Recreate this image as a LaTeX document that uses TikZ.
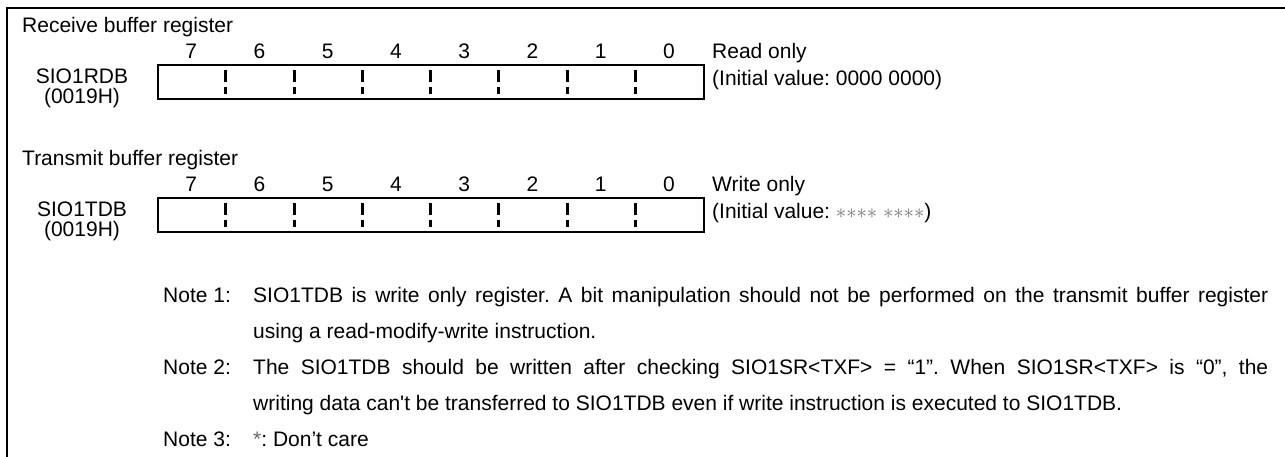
\documentclass[tikz,border=0pt]{standalone}
\usepackage{fontspec}
\setmainfont{Liberation Sans}[Ligatures=TeXOff]
\newcommand{\dcst}{\ensuremath{\mathord{\ast}}}
\begin{document}
\frenchspacing
\begin{tikzpicture}[x=1bp,y=-1bp,
  txt/.style={inner sep=0pt, anchor=base west, font=\fontsize{21bp}{25bp}\selectfont\frenchspacing},
  ctxt/.style={txt, anchor=base},
  regbox/.style={draw, line width=1.8bp, inner sep=0pt, anchor=north west, minimum width=546bp, minimum height=34.5bp},
  divider/.style={line width=2.2bp},
  frameline/.style={line width=2bp}]
\useasboundingbox (0,0) rectangle (1285,457);
% frame
\coordinate (ftr) at (1290,8);
\coordinate (fc) at (7,8);
\coordinate (fbl) at (7,460);
\draw[frameline] (ftr) -- (fc) -- (fbl);
% receive register
\node[txt] (rtitle) at (22,33) {Receive buffer register};
\foreach \i in {0,...,7} {
  \pgfmathtruncatemacro{\b}{7-\i}
  \node[ctxt] (rbit\b) at ({157+68.25*(\i+0.5)},59) {\b};
}
\node[regbox] (rdb) at (157,64) {};
\foreach \i in {1,...,7} {
  \pgfmathsetmacro{\xx}{round(157+68.25*\i)+0.5}
  \draw[divider] (\xx,70) -- (\xx,82);
  \draw[divider] (\xx,87) -- (\xx,94);
}
\node[ctxt] (rname) at (82,84) {SIO1RDB};
\node[ctxt] (raddr) at (82,104) {(0019H)};
\node[txt] (rmode) at (712,59) {Read only};
\node[txt] (rinit) at (712,86) {(Initial value: 0000 0000)};
% transmit register
\node[txt] (ttitle) at (22,166) {Transmit buffer register};
\foreach \i in {0,...,7} {
  \pgfmathtruncatemacro{\b}{7-\i}
  \node[ctxt] (tbit\b) at ({157+68.25*(\i+0.5)},192) {\b};
}
\node[regbox] (tdb) at (157,197) {};
\foreach \i in {1,...,7} {
  \pgfmathsetmacro{\xx}{round(157+68.25*\i)+0.5}
  \draw[divider] (\xx,203) -- (\xx,215);
  \draw[divider] (\xx,220) -- (\xx,227);
}
\node[ctxt] (tname) at (82,217) {SIO1TDB};
\node[ctxt] (taddr) at (82,237) {(0019H)};
\node[txt] (tmode) at (712,192) {Write only};
\node[txt] (tinit) at (712,219) {(Initial value: \textcolor{black!55}{\dcst\dcst\dcst\dcst\ \dcst\dcst\dcst\dcst})};
% notes
\node[txt] (n1) at (163,303) {Note 1:};
\node[txt] (n1a) at (253,303) {\hbox to 1015bp{SIO1TDB is write only register. A bit manipulation should not be performed on the transmit buffer register}};
\node[txt] (n1b) at (253,339) {using a read-modify-write instruction.};
\node[txt] (n2) at (163,375) {Note 2:};
\node[txt] (n2a) at (253,375) {\hbox to 1015bp{The SIO1TDB should be written after checking SIO1SR<TXF> = “1”. When SIO1SR<TXF> is “0”, the}};
\node[txt] (n2b) at (253,411) {writing data can't be transferred to SIO1TDB even if write instruction is executed to SIO1TDB.};
\node[txt] (n3) at (163,447) {Note 3:};
\node[txt] (n3a) at (253,447) {\textcolor{black!60}{*}: Don’t care};
\end{tikzpicture}
\end{document}
